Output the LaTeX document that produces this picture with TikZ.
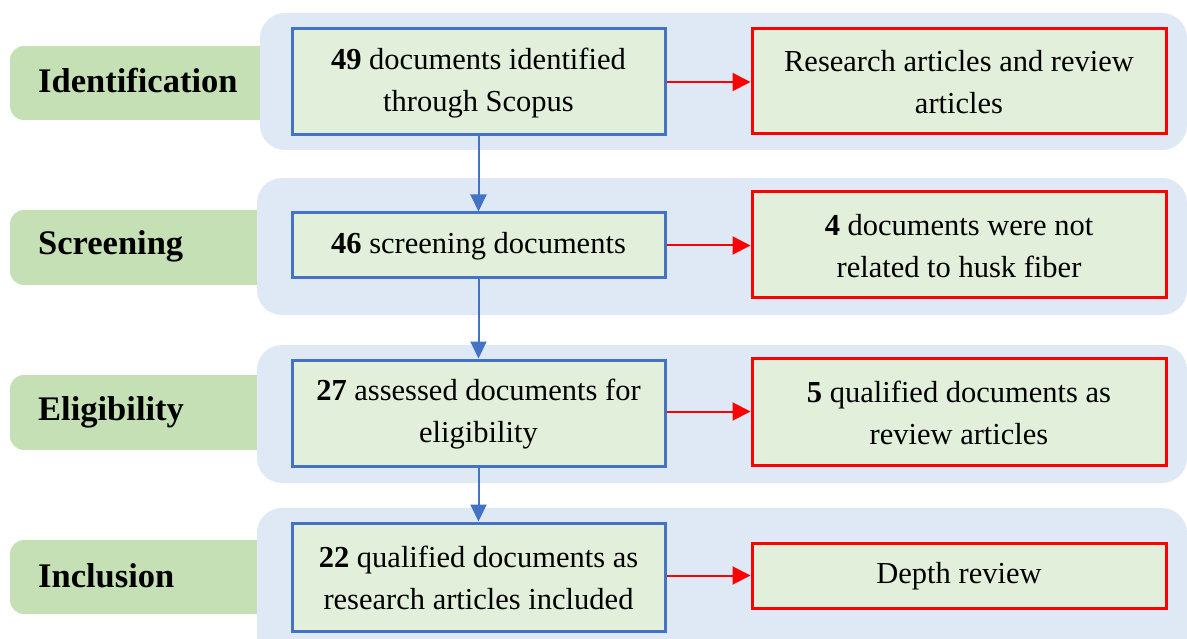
\documentclass[tikz,border=0pt]{standalone}
\usepackage{fontspec}
\setmainfont{Liberation Serif}
\usetikzlibrary{arrows.meta}
\definecolor{bandc}{HTML}{DEE9F5}
\definecolor{labc}{HTML}{C5E0B4}
\definecolor{boxc}{HTML}{E2EFDA}
\definecolor{blueb}{HTML}{4472C4}
\definecolor{redb}{HTML}{FF0000}
\tikzset{
  band/.style={fill=bandc, draw=none, rounded corners=25pt},
  lab/.style={fill=labc, draw=none, rounded corners=14pt},
  labtxt/.style={anchor=west, inner sep=0pt, font=\fontsize{34.5}{40}\selectfont\bfseries},
  bluebox/.style={draw=blueb, line width=3pt, fill=boxc},
  redbox/.style={draw=redb, line width=3pt, fill=boxc},
  boxtxt/.style={align=center, inner sep=0pt, font=\fontsize{30.5}{42}\selectfont},
  bluearr/.style={draw=blueb, line width=2pt, -{Triangle[length=17pt,width=16pt]}},
  redarr/.style={draw=redb, line width=2pt, -{Triangle[length=18pt,width=18pt]}},
}
\begin{document}
\begin{tikzpicture}[x=1pt,y=-1pt]
\useasboundingbox (0,0) rectangle (1187,639);
\clip (0,0) rectangle (1187,639);
% green labels
\fill[lab] (10,46) rectangle (290,120);
\fill[lab] (10,210) rectangle (290,285);
\fill[lab] (10,375) rectangle (290,450);
\fill[lab] (10,540) rectangle (290,614);
% bands
\fill[band] (260,13) rectangle (1187,150);
\fill[band] (257,178) rectangle (1187,315);
\fill[band] (257,345) rectangle (1187,483);
\fill[band] (257,508) rectangle (1187,670);
% label texts
\node[labtxt] (l1) at (38,81) {Identification};
\node[labtxt] (l2) at (38,246) {Screening};
\node[labtxt] (l3) at (38,412) {Eligibility};
\node[labtxt] (l4) at (38,576) {Inclusion};
% blue boxes
\node[bluebox, minimum width=373pt, minimum height=106pt] (b1) at (478.5,82) {};
\node[bluebox, minimum width=373pt, minimum height=65pt] (b2) at (478.5,245.5) {};
\node[bluebox, minimum width=373pt, minimum height=106pt] (b3) at (478.5,413) {};
\node[bluebox, minimum width=373pt, minimum height=108pt] (b4) at (478.5,577) {};
\node[boxtxt] at ([yshift=-1pt]b1.center) {\textbf{49} documents identified\\through Scopus};
\node[boxtxt] at ([yshift=-1pt]b2.center) {\textbf{46} screening documents};
\node[boxtxt] at ([yshift=-1pt]b3.center) {\textbf{27} assessed documents for\\eligibility};
\node[boxtxt] at ([yshift=-1pt]b4.center) {\textbf{22} qualified documents as\\research articles included};
% red boxes
\node[redbox, minimum width=414pt, minimum height=105pt] (r1) at (959,81.5) {};
\node[redbox, minimum width=414pt, minimum height=106pt] (r2) at (959,245) {};
\node[redbox, minimum width=414pt, minimum height=107pt] (r3) at (959,411.5) {};
\node[redbox, minimum width=414pt, minimum height=65pt] (r4) at (959,575.5) {};
\node[boxtxt] at ([yshift=-1pt]r1.center) {Research articles and review\\articles};
\node[boxtxt] at ([yshift=-1pt]r2.center) {\textbf{4} documents were not\\related to husk fiber};
\node[boxtxt] at ([yshift=-1pt]r3.center) {\textbf{5} qualified documents as\\review articles};
\node[boxtxt] at ([yshift=-1pt]r4.center) {Depth review};
% arrows
\draw[redarr] (b1.east) -- (r1.west |- b1.east);
\draw[redarr] (b2.east) -- (r2.west |- b2.east);
\draw[redarr] (b3.east |- r3.west) -- (r3.west);
\draw[redarr] (b4.east |- r4.west) -- (r4.west);
\draw[bluearr] (b1.south) -- (b2.north);
\draw[bluearr] (b2.south) -- (b3.north);
\draw[bluearr] (b3.south) -- (b4.north);
\end{tikzpicture}
\end{document}
